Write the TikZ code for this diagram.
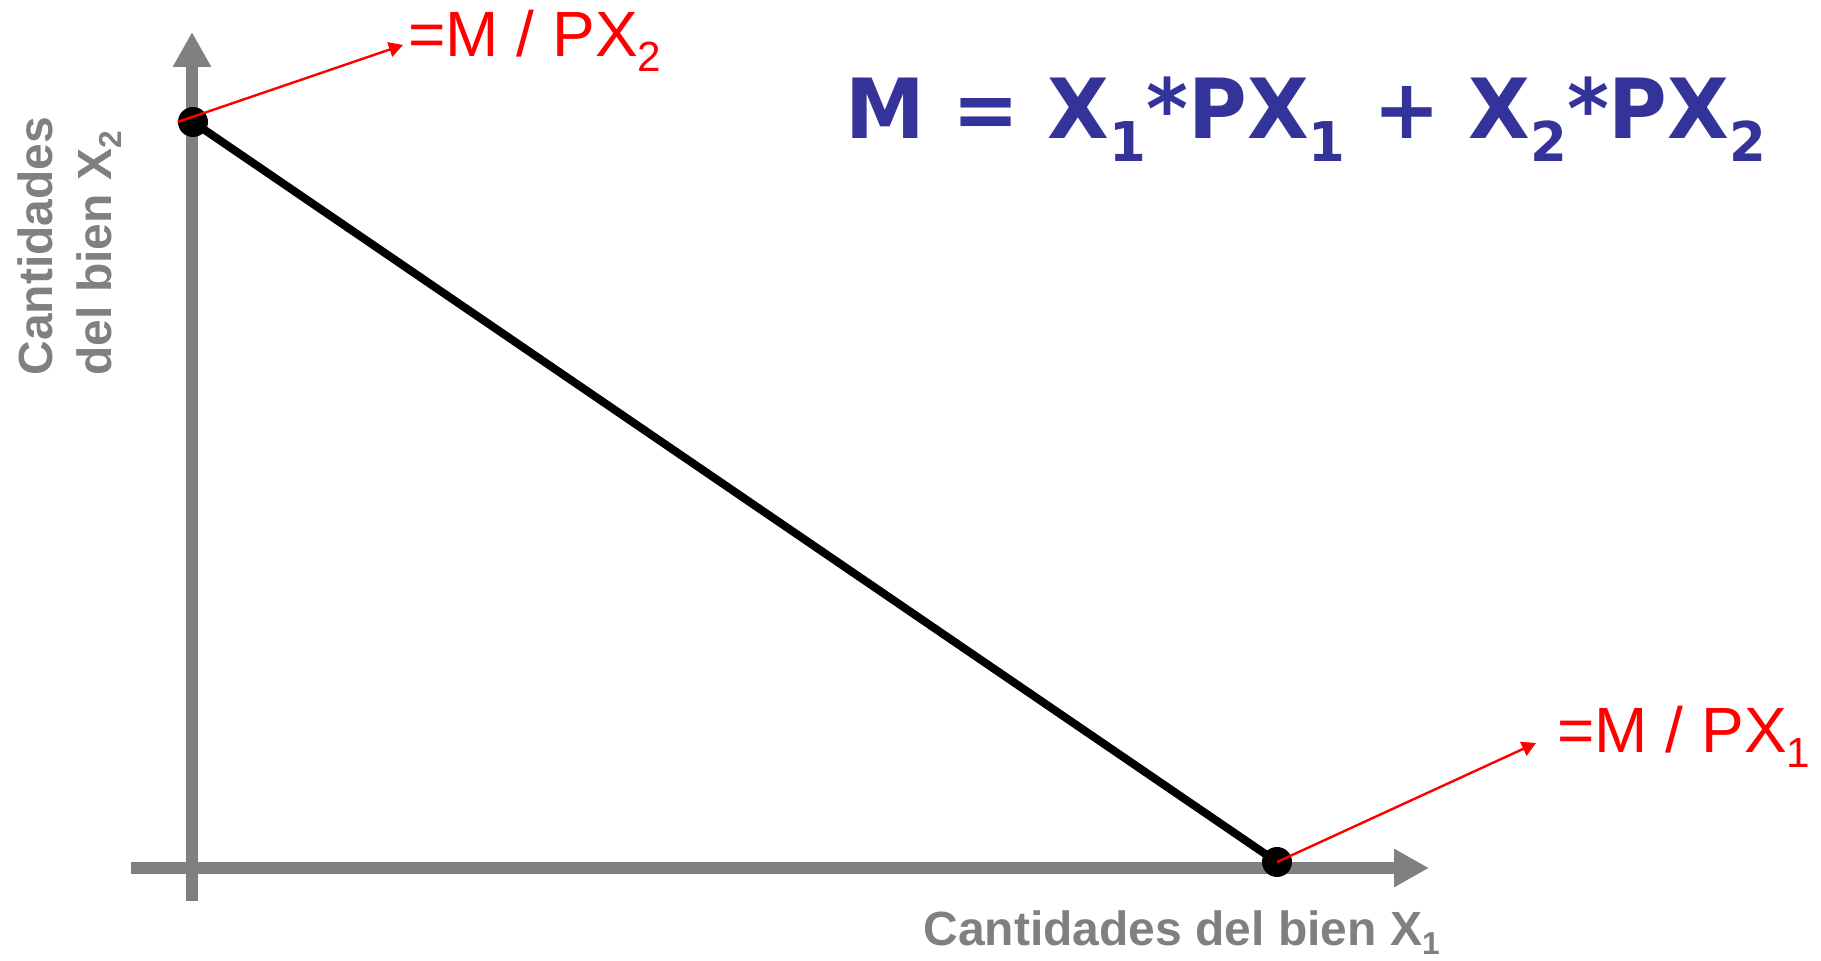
\documentclass[tikz,border=0pt]{standalone}
\usepackage{fontspec}
\setmainfont{Liberation Sans}
\newfontfamily\eqfont{DejaVu Sans}
\usetikzlibrary{arrows.meta}
\definecolor{axisgray}{HTML}{808080}
\definecolor{eqblue}{HTML}{333399}
\newcommand\lowsub[2]{\raisebox{-#1em}{\scalebox{0.66}{#2}}}
\begin{document}
\begin{tikzpicture}[x=0.5pt,y=-0.5pt,
  axis/.style={draw=axisgray, line width=6pt, -{Triangle[length=17.5pt,width=18pt]}},
  budget/.style={line width=4pt, black},
  dot/.style={circle, fill=black, minimum size=15pt, inner sep=0pt},
  pointer/.style={draw=red, line width=1.2pt, -{Triangle[length=7pt,width=7.5pt]}},
  redlabel/.style={text=red, font=\fontsize{32}{38}\selectfont, inner sep=0pt, anchor=base west},
  graylabel/.style={text=axisgray, font=\bfseries\fontsize{24}{30}\selectfont, inner sep=0pt, anchor=base west},
  eqlabel/.style={text=eqblue, font=\eqfont\bfseries\fontsize{41.5}{48}\selectfont, inner sep=0pt, anchor=base west}
]
\useasboundingbox (0,0) rectangle (1821,961);
\coordinate (yb) at (192,901);
\coordinate (yt) at (192,32);
\coordinate (xl) at (131,868);
\coordinate (xr) at (1429,868);
\draw[axis] (yb) -- (yt);
\draw[axis] (xl) -- (xr);
\coordinate (pA) at (193,122);
\coordinate (pB) at (1277,862);
\draw[budget] (pA) -- (pB);
\node[dot] (A) at (pA) {};
\node[dot] (B) at (pB) {};
\node[redlabel] (LA) at (408,57) {=M / PX\lowsub{0.23}{2}};
\node[redlabel] (LB) at (1557,753) {=M / PX\lowsub{0.23}{1}};
\coordinate (tA) at (403,45);
\coordinate (tB) at (1536,743);
\draw[pointer] (A.west) -- (tA);
\draw[pointer] (B.center) -- (tB);
\node[graylabel, rotate=90] (Y1) at (53,376) {Cantidades};
\node[graylabel, rotate=90] (Y2) at (111,376) {del bien X\lowsub{0.22}{2}};
\node[graylabel] (XL) at (923,945) {Cantidades del bien X\lowsub{0.2}{1}};
\node[eqlabel] (EQ) at (845,139) {\scalebox{0.965}[1]{M = X\lowsub{0.27}{1}*PX\lowsub{0.27}{1} + X\lowsub{0.27}{2}*PX\lowsub{0.27}{2}}};
\end{tikzpicture}
\end{document}
